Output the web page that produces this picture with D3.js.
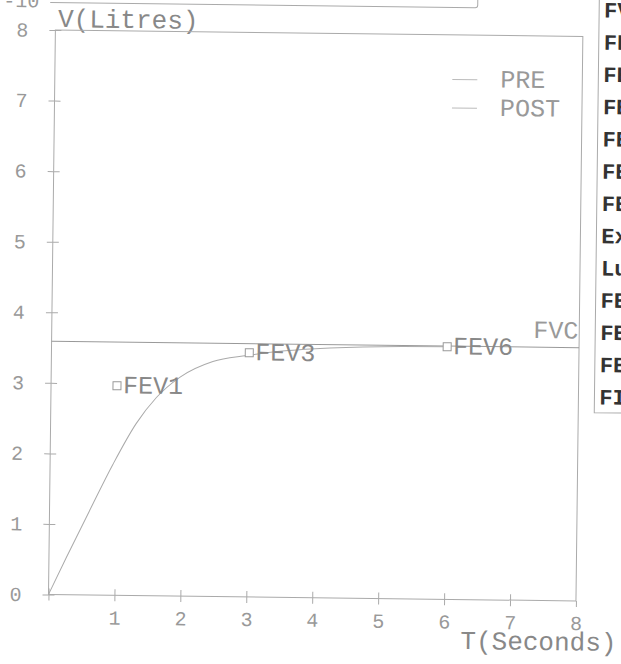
<!DOCTYPE html>
<html><head><meta charset="utf-8">
<script src="https://cdn.jsdelivr.net/npm/d3@7/dist/d3.min.js"></script>
<style>body{margin:0;background:#fff}svg{display:block}</style>
</head><body>
<script>
// ---- data ----
const xTickValues = [0, 1, 2, 3, 4, 5, 6, 7, 8];
const xTickLabels = ["", "1", "2", "3", "4", "5", "6", "7", "8"];
const yTickValues = [0, 1, 2, 3, 4, 5, 6, 7, 8];
const yTickLabels = ["0", "1", "2", "3", "4", "5", "6", "7", "8"];
const curveT = [0, 0.26, 0.61, 0.95, 1.30, 1.60, 1.95, 2.45, 2.96, 3.5, 4.0, 5.0, 6.0];
const curveV = [0, 0.52, 1.20, 1.85, 2.44, 2.81, 3.10, 3.33, 3.42, 3.49, 3.53, 3.57, 3.58];
const fevNames = ["FEV1", "FEV3", "FEV6"];
const fevT = [1, 3, 6];
const fevV = [2.97, 3.46, 3.58];
const fvcValue = 3.59;
const legendNames = ["PRE", "POST"];
const tableRows = ["FVC", "FEV1", "FEV1/FVC", "FEV3", "FEV3/FVC", "FEV6", "FEF25-75",
                   "Ext.Vol", "Lung Age", "FEF25", "FEF50", "FEF75", "FIVC"];

// ---- layout ----
const W = 621, H = 664;
const FONT = "'Courier New','Liberation Mono',monospace";
const svg = d3.select("body").append("svg").attr("width", W).attr("height", H)
  .style("background", "#fff");
const g = svg.append("g").attr("transform", "rotate(0.7,49,594)");

const x = d3.scaleLinear().domain([0, 8]).range([48.5, 576]);
const y = d3.scaleLinear().domain([0, 8]).range([594.5, 30]);

// upper panel remnant
g.append("path").attr("d", "M43,2.5 H468 Q470.5,2.5 470.5,0 V-20")
  .attr("fill", "none").attr("stroke", "#aaa").attr("stroke-width", 1);
g.append("text").attr("x", 14).attr("y", 7.5).attr("text-anchor", "middle")
  .attr("font-family", FONT).attr("font-size", 20).attr("fill", "#999").text("-10");
g.append("text").attr("x", 51).attr("y", 27).attr("font-family", FONT)
  .attr("font-size", 26).attr("fill", "#888").text("V(Litres)");

// plot frame
g.append("rect").attr("x", x(0)).attr("y", y(8)).attr("width", x(8) - x(0))
  .attr("height", y(0) - y(8)).attr("fill", "none").attr("stroke", "#aaa").attr("stroke-width", 1);

function styleAxis(sel) {
  sel.select(".domain").remove();
  sel.selectAll("line").attr("stroke", "#aaa");
  sel.selectAll("text").attr("font-family", FONT).attr("font-size", 20).attr("fill", "#999");
}
// x axis (outer ticks + labels, inner ticks)
g.append("g").attr("transform", `translate(0,${y(0)})`)
  .call(d3.axisBottom(x).tickValues(xTickValues).tickSize(6).tickPadding(9)
    .tickFormat((d, i) => xTickLabels[i])).call(styleAxis);
g.append("g").attr("transform", `translate(0,${y(0)})`)
  .call(d3.axisBottom(x).tickValues(xTickValues.slice(0, -1)).tickSize(-6).tickFormat("")).call(styleAxis);
// y axis
g.append("g").attr("transform", `translate(${x(0)},0)`)
  .call(d3.axisLeft(y).tickValues(yTickValues).tickSize(6).tickPadding(21)
    .tickFormat((d, i) => yTickLabels[i])).call(styleAxis);
g.append("g").attr("transform", `translate(${x(0)},0)`)
  .call(d3.axisLeft(y).tickValues(yTickValues).tickSize(-6).tickFormat("")).call(styleAxis);

g.append("text").attr("x", 461).attr("y", 644).attr("font-family", FONT)
  .attr("font-size", 26).attr("fill", "#888").text("T(Seconds)");

// FVC line
g.append("line").attr("x1", x(0)).attr("x2", x(8)).attr("y1", y(fvcValue)).attr("y2", y(fvcValue))
  .attr("stroke", "#999").attr("stroke-width", 1);
g.append("text").attr("x", x(8) - 1).attr("y", y(fvcValue) - 9).attr("text-anchor", "end")
  .attr("font-family", FONT).attr("font-size", 25).attr("fill", "#999").text("FVC");

// volume-time curve
const pts = curveT.map((t, i) => [t, curveV[i]]);
g.append("path").datum(pts)
  .attr("d", d3.line().x(d => x(d[0])).y(d => y(d[1])).curve(d3.curveMonotoneX))
  .attr("fill", "none").attr("stroke", "#aaa").attr("stroke-width", 1);

// FEV markers
const fev = fevNames.map((n, i) => ({n, t: fevT[i], v: fevV[i]}));
const mk = g.append("g").selectAll("g").data(fev).join("g")
  .attr("transform", d => `translate(${x(d.t)},${y(d.v)})`);
mk.append("rect").attr("x", -4).attr("y", -4).attr("width", 8).attr("height", 8)
  .attr("fill", "#fff").attr("stroke", "#999").attr("stroke-width", 1);
mk.append("text").attr("x", 6).attr("y", 7.5).attr("font-family", FONT)
  .attr("font-size", 25).attr("fill", "#888").text(d => d.n);

// legend
const lg = g.append("g").selectAll("g").data(legendNames).join("g")
  .attr("transform", (d, i) => `translate(0,${74.5 + i * 28.5})`);
lg.append("line").attr("x1", 446).attr("x2", 471).attr("stroke", "#bbb").attr("stroke-width", 1);
lg.append("text").attr("x", 494).attr("y", 7.5).attr("font-family", FONT)
  .attr("font-size", 25).attr("fill", "#999").text(d => d);

// right-hand results table (clipped by page edge)
g.append("path").attr("d", "M592,-20 V406 H660").attr("fill", "none")
  .attr("stroke", "#aaa").attr("stroke-width", 1);
g.append("g").selectAll("text").data(tableRows).join("text")
  .attr("x", 597).attr("y", (d, i) => 3.2 + i * 32.25 + 7.5)
  .attr("font-family", FONT).attr("font-size", 22).attr("font-weight", "bold")
  .attr("fill", "#333").text(d => d);
</script>
</body></html>
